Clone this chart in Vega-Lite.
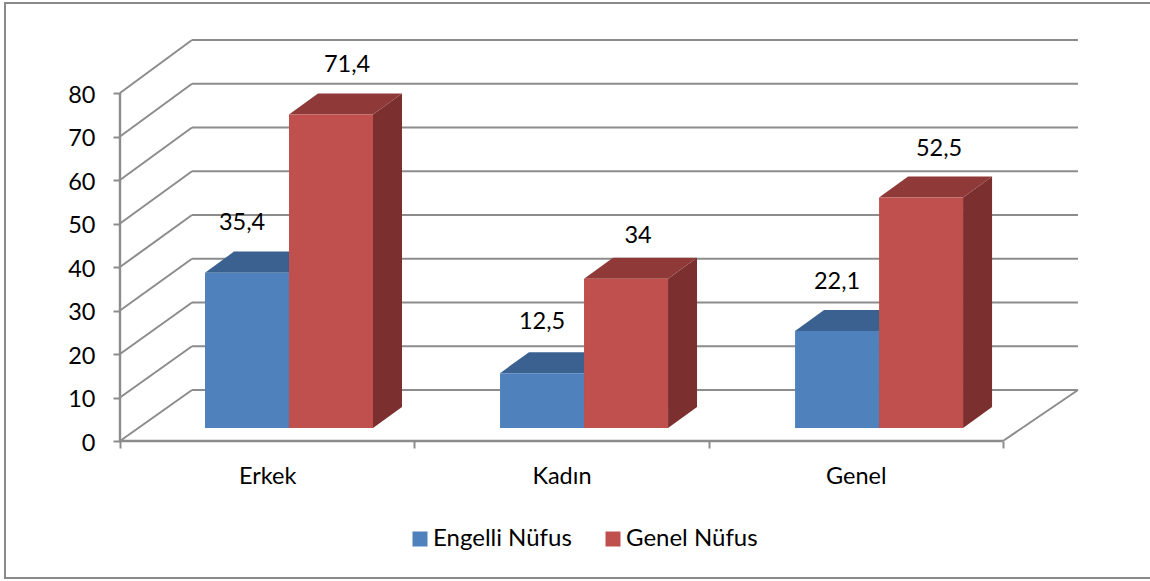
{
"$schema":"https://vega.github.io/schema/vega-lite/v6.json",
"width":1150,"height":575,
"autosize":{"type":"none"},
"padding":{"left":5,"top":3,"right":0,"bottom":3},
"background":"white",
"view":{"stroke":"#8a8a8a","strokeWidth":2,"fill":"white"},
"config":{"font":"Lato","text":{"font":"Lato"}},
"datasets":{
"bars":[
{"cat":"Erkek","series":"Engelli Nüfus","value":35.4},
{"cat":"Erkek","series":"Genel Nüfus","value":71.4},
{"cat":"Kadın","series":"Engelli Nüfus","value":12.5},
{"cat":"Kadın","series":"Genel Nüfus","value":34},
{"cat":"Genel","series":"Engelli Nüfus","value":22.1},
{"cat":"Genel","series":"Genel Nüfus","value":52.5}
],
"ticks":[{"tick":0},{"tick":10},{"tick":20},{"tick":30},{"tick":40},{"tick":50},{"tick":60},{"tick":70},{"tick":80}]
},
"layer":[
{"data":{"name":"ticks"},
 "transform":[{"calculate":"datum.tick*1.006+11.72","as":"back"}],
 "mark":{"type":"rule","color":"#8c8c8c","strokeWidth":2},
 "encoding":{
  "x":{"datum":0.2446,"type":"quantitative","scale":{"domain":[-0.3907,3.5165],"nice":false,"zero":false},
   "axis":{"title":null,"domain":false,"grid":false,"offset":-137,"values":[0,0.5,1,1.5,2,2.5,3],
    "labelExpr":"datum.value==0.5?'Erkek':datum.value==1.5?'Kadın':datum.value==2.5?'Genel':''",
    "tickOpacity":{"condition":{"test":"datum.value==0.5||datum.value==1.5||datum.value==2.5","value":0},"value":1},
    "tickColor":"#8c8c8c","tickWidth":2,"tickSize":7,"labelPadding":16,"labelFont":"Lato","labelFontSize":23.5,"labelColor":"#000000","labelFontWeight":"normal","labelOverlap":false,"labelFlush":false}},
  "x2":{"datum":3.2548},
  "y":{"field":"back","type":"quantitative","scale":{"domain":[-31.49,100.69],"nice":false,"zero":false}, 
   "axis":{"title":null,"domain":false,"grid":false,"offset":-115,"values":[0,10,20,30,40,50,60,70,80],
    "tickColor":"#8c8c8c","tickWidth":2,"tickSize":7,"labelPadding":18,"labelOffset":2,"labelFont":"Lato","labelFontSize":23.5,"labelColor":"#000000"}}
 }},
{"data":{"name":"ticks"},
 "transform":[{"calculate":"datum.tick*1.006+11.72","as":"back"}],
 "mark":{"type":"rule","color":"#8c8c8c","strokeWidth":2},
 "encoding":{
  "x":{"datum":0,"type":"quantitative","scale":{"domain":[-0.3907,3.5165],"nice":false,"zero":false}},
  "x2":{"datum":0.2446},
  "y":{"field":"tick","type":"quantitative","scale":{"domain":[-31.49,100.69],"nice":false,"zero":false}},
  "y2":{"field":"back"}
 }},
{"data":{"name":"ticks"},
 "transform":[{"filter":"datum.tick===0"},{"calculate":"11.72","as":"back"}],
 "mark":{"type":"rule","color":"#8c8c8c","strokeWidth":2},
 "encoding":{
  "x":{"datum":3,"type":"quantitative","scale":{"domain":[-0.3907,3.5165],"nice":false,"zero":false}},
  "x2":{"datum":3.2548},
  "y":{"field":"tick","type":"quantitative","scale":{"domain":[-31.49,100.69],"nice":false,"zero":false}},
  "y2":{"field":"back"}
 }},
{"data":{"name":"ticks"},
 "transform":[{"filter":"datum.tick===0"}],
 "mark":{"type":"rule","color":"#8c8c8c","strokeWidth":2.4},
 "encoding":{
  "x":{"datum":0,"type":"quantitative","scale":{"domain":[-0.3907,3.5165],"nice":false,"zero":false}},
  "x2":{"datum":3},
  "y":{"field":"tick","type":"quantitative","scale":{"domain":[-31.49,100.69],"nice":false,"zero":false}}
 }},
{"data":{"name":"ticks"},
 "transform":[{"joinaggregate":[{"op":"min","field":"tick","as":"lo"},{"op":"max","field":"tick","as":"hi"}]},{"filter":"datum.tick===0"}],
 "mark":{"type":"rule","color":"#8c8c8c","strokeWidth":2.4},
 "encoding":{
  "x":{"datum":0,"type":"quantitative","scale":{"domain":[-0.3907,3.5165],"nice":false,"zero":false}},
  "y":{"field":"lo","type":"quantitative","scale":{"domain":[-31.49,100.69],"nice":false,"zero":false}},
  "y2":{"field":"hi"}
 }},
{"data":{"name":"bars"},
 "transform":[
  {"calculate":"indexof(['Erkek','Kadın','Genel'],datum.cat)*1.0024+0.2888+(datum.series==='Genel Nüfus'?0.2854:0)","as":"a"},
  {"calculate":"datum.value*1.009+2.99","as":"t"},
  {"calculate":"[0,1]","as":"k"},{"flatten":["k"]},
  {"calculate":"datum.a+0.2854+datum.k*0.0985","as":"px"},
  {"calculate":"2.99+datum.k*4.83","as":"lo"},
  {"calculate":"datum.t+datum.k*4.83","as":"hi"}
 ],
 "mark":{"type":"area"},
 "encoding":{
  "detail":[{"field":"cat"},{"field":"series"}],
  "x":{"field":"px","type":"quantitative","scale":{"domain":[-0.3907,3.5165],"nice":false,"zero":false}},
  "y":{"field":"hi","type":"quantitative","stack":null,"scale":{"domain":[-31.49,100.69],"nice":false,"zero":false}},
  "y2":{"field":"lo"},
  "fill":{"condition":{"test":"datum.series==='Genel Nüfus'","value":"#7B302F"},"value":"#2F4D72"}
 }},
{"data":{"name":"bars"},
 "transform":[
  {"calculate":"indexof(['Erkek','Kadın','Genel'],datum.cat)*1.0024+0.2888+(datum.series==='Genel Nüfus'?0.2854:0)","as":"a"},
  {"calculate":"datum.value*1.009+2.99","as":"t"},
  {"calculate":"[0,1,2,3]","as":"k"},{"flatten":["k"]},
  {"calculate":"datum.a+[0,0.0985,0.2854,0.3839][datum.k]","as":"px"},
  {"calculate":"datum.t+[0,0,0,4.83][datum.k]","as":"lo"},
  {"calculate":"datum.t+[0,4.83,4.83,4.83][datum.k]","as":"hi"}
 ],
 "mark":{"type":"area"},
 "encoding":{
  "detail":[{"field":"cat"},{"field":"series"}],
  "x":{"field":"px","type":"quantitative","scale":{"domain":[-0.3907,3.5165],"nice":false,"zero":false}},
  "y":{"field":"hi","type":"quantitative","stack":null,"scale":{"domain":[-31.49,100.69],"nice":false,"zero":false}},
  "y2":{"field":"lo"},
  "fill":{"condition":{"test":"datum.series==='Genel Nüfus'","value":"#8F3A38"},"value":"#3B6190"}
 }},
{"data":{"name":"bars"},
 "transform":[
  {"calculate":"indexof(['Erkek','Kadın','Genel'],datum.cat)*1.0024+0.2888+(datum.series==='Genel Nüfus'?0.2854:0)","as":"a"},
  {"calculate":"datum.a+0.2854","as":"b"},
  {"calculate":"datum.value*1.009+2.99","as":"t"},
  {"calculate":"2.99","as":"base"}
 ],
 "mark":{"type":"rect"},
 "encoding":{
  "x":{"field":"a","type":"quantitative","scale":{"domain":[-0.3907,3.5165],"nice":false,"zero":false}},
  "x2":{"field":"b"},
  "y":{"field":"t","type":"quantitative","scale":{"domain":[-31.49,100.69],"nice":false,"zero":false}},
  "y2":{"field":"base"},
  "color":{"field":"series","type":"nominal","scale":{"domain":["Engelli Nüfus","Genel Nüfus"],"range":["#4F81BD","#C0504D"]},
   "legend":{"title":null,"orient":"none","legendX":403,"legendY":524,"direction":"horizontal","symbolType":"square","symbolSize":225,"symbolStrokeWidth":0,"labelFont":"Lato","labelFontSize":24,"labelColor":"#000000","columnPadding":29,"labelOffset":1}}
 }},
{"data":{"name":"bars"},
 "transform":[
  {"calculate":"indexof(['Erkek','Kadın','Genel'],datum.cat)*1.0024+0.2888+(datum.series==='Genel Nüfus'?0.2854:0)+0.1427+(datum.series==='Genel Nüfus'?{'Erkek':16,'Kadın':12,'Genel':18}:{'Erkek':-5,'Kadın':0,'Genel':0})[datum.cat]/294.33","as":"c"},
  {"calculate":"datum.value*1.009+2.99+(datum.series==='Genel Nüfus'?{'Erkek':52,'Kadın':45,'Genel':51}:{'Erkek':52,'Kadın':53,'Genel':51})[datum.cat]/4.35","as":"ly"},
  {"calculate":"replace(toString(datum.value),'.',',')","as":"lab"}
 ],
 "mark":{"type":"text","font":"Lato","fontSize":23.5,"color":"#000000","baseline":"middle","align":"center","dy":2},
 "encoding":{
  "x":{"field":"c","type":"quantitative","scale":{"domain":[-0.3907,3.5165],"nice":false,"zero":false}},
  "y":{"field":"ly","type":"quantitative","scale":{"domain":[-31.49,100.69],"nice":false,"zero":false}},
  "text":{"field":"lab","type":"nominal"}
 }}
]
}
